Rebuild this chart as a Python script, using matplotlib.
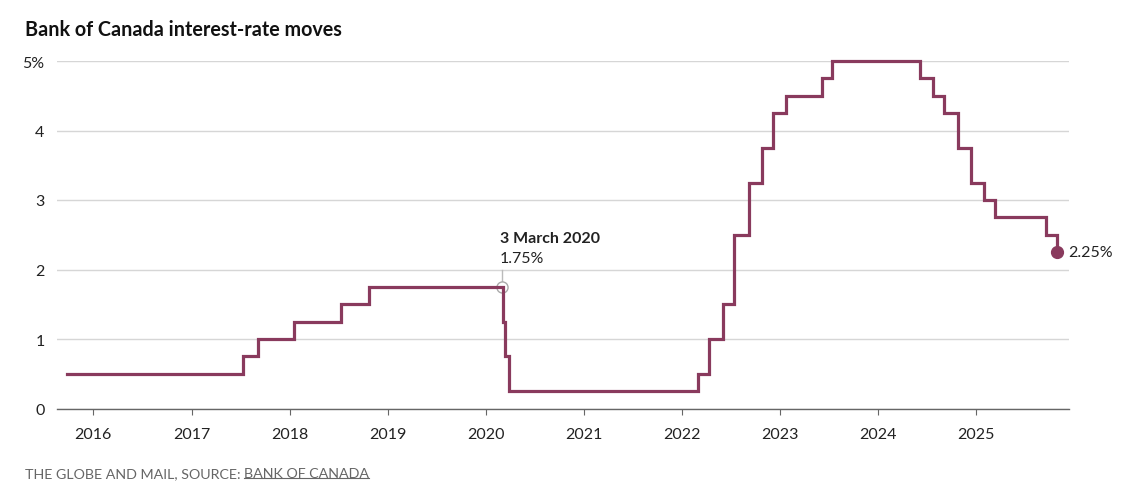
import matplotlib
matplotlib.use("Agg")
import matplotlib.pyplot as plt
import matplotlib.dates as mdates
from matplotlib.lines import Line2D
from datetime import date

plt.rcParams['font.family'] = ['Lato', 'DejaVu Sans']

# Bank of Canada overnight rate: date of each change and the new rate (%)
change_dates = [
    date(2015, 9, 26), date(2017, 7, 12), date(2017, 9, 6), date(2018, 1, 17),
    date(2018, 7, 11), date(2018, 10, 24), date(2020, 3, 4), date(2020, 3, 13),
    date(2020, 3, 27), date(2022, 3, 2), date(2022, 4, 13), date(2022, 6, 1),
    date(2022, 7, 13), date(2022, 9, 7), date(2022, 10, 26), date(2022, 12, 7),
    date(2023, 1, 25), date(2023, 6, 7), date(2023, 7, 12), date(2024, 6, 5),
    date(2024, 7, 24), date(2024, 9, 4), date(2024, 10, 23), date(2024, 12, 11),
    date(2025, 1, 29), date(2025, 3, 12), date(2025, 9, 17), date(2025, 10, 29),
]
rates = [
    0.50, 0.75, 1.00, 1.25,
    1.50, 1.75, 1.25, 0.75,
    0.25, 0.50, 1.00, 1.50,
    2.50, 3.25, 3.75, 4.25,
    4.50, 4.75, 5.00, 4.75,
    4.50, 4.25, 3.75, 3.25,
    3.00, 2.75, 2.50, 2.25,
]

note_date = date(2020, 3, 3)
note_rate = 1.75
year_ticks = [date(y, 1, 1) for y in range(2016, 2026)]
y_ticks = [0, 1, 2, 3, 4, 5]
y_labels = ['0', '1', '2', '3', '4', '5%']

line_color = '#893a5d'

fig = plt.figure(figsize=(11.22, 5.02), dpi=100)
ax = fig.add_axes([57 / 1122, 1 - 409.5 / 502, (1069 - 57) / 1122, (409.5 - 62) / 502])

ax.step(change_dates, rates, where='post', color=line_color, lw=2.3,
        solid_joinstyle='miter', clip_on=False, zorder=3)
ax.plot([change_dates[-1]], [rates[-1]], 'o', color=line_color, ms=8.5,
        clip_on=False, zorder=4)
ax.text(mdates.date2num(change_dates[-1]) + 40, rates[-1], '%.2f%%' % rates[-1],
        fontsize=11.5, color='#222222', va='center', ha='left')

# annotation at 3 March 2020
ax.plot([note_date, note_date], [note_rate + 0.06, 2.0], color='#bbbbbb', lw=1, zorder=2)
ax.plot([note_date], [note_rate], 'o', mfc='white', mec='#aaaaaa', mew=1, ms=8,
        zorder=2)
note_x = mdates.date2num(note_date) - 8
ax.text(note_x, 2.16, '1.75%', fontsize=11.5, color='#222222', ha='left', va='center')
ax.text(note_x, 2.45, '3 March 2020', fontsize=11.5, fontweight='bold',
        color='#222222', ha='left', va='center')

ax.set_xlim(date(2015, 8, 19), date(2025, 12, 12))
ax.set_ylim(0, 5)
ax.set_xticks(year_ticks)
ax.xaxis.set_major_formatter(mdates.DateFormatter('%Y'))
ax.set_yticks(y_ticks)
ax.set_yticklabels(y_labels)
ax.grid(axis='y', color='#d6d6d6', lw=1)
ax.set_axisbelow(True)

for s in ['top', 'right', 'left']:
    ax.spines[s].set_visible(False)
ax.spines['bottom'].set_color('#666666')
ax.spines['bottom'].set_linewidth(1)
ax.tick_params(axis='x', length=4, color='#666666', labelsize=11.5, pad=9.5,
               labelcolor='#222222')
ax.tick_params(axis='y', length=0, labelsize=11.5, pad=9, labelcolor='#222222')

fig.text(25 / 1122, 1 - 30 / 502, 'Bank of Canada interest-rate moves',
         fontsize=14.2, fontweight='bold', color='#111111', va='center', ha='left')

t1 = fig.text(25 / 1122, 1 - 474 / 502, 'THE GLOBE AND MAIL, SOURCE: ',
              fontsize=10.3, color='#666666', va='center', ha='left')
fig.canvas.draw()
bb = t1.get_window_extent()
t2 = fig.text(bb.x1 / 1122, 1 - 474 / 502, 'BANK OF CANADA',
              fontsize=10.3, color='#666666', va='center', ha='left')
fig.canvas.draw()
bb2 = t2.get_window_extent()
uy = bb2.y0 + 1
fig.add_artist(Line2D([bb2.x0 / 1122, bb2.x1 / 1122], [uy / 502, uy / 502],
                      color='#666666', lw=0.8, transform=fig.transFigure))

fig.savefig('out.png', dpi=100)
